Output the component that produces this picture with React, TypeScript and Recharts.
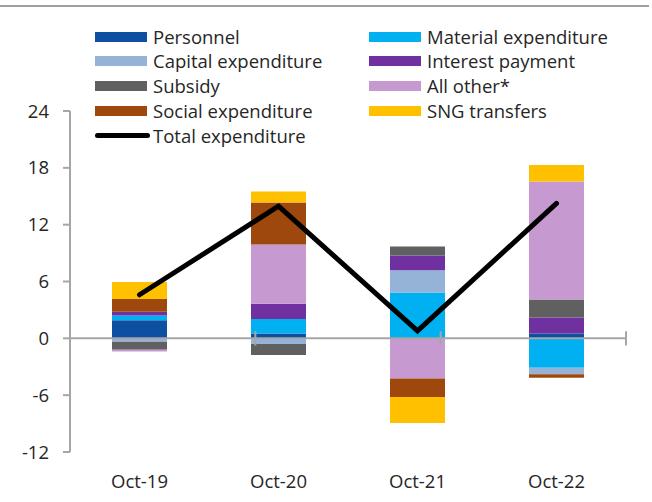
import React from 'react';
import { ComposedChart, Bar, Line, XAxis, YAxis, ReferenceLine } from 'recharts';

const categories = ['Oct-19', 'Oct-20', 'Oct-21', 'Oct-22'];
const personnel = [1.9, 0.5, 0, 0.5];
const material = [0.5, 1.55, 4.85, -3.1];
const capital = [-0.35, -0.6, 2.35, -0.7];
const interest = [0.4, 1.6, 1.55, 1.7];
const subsidy = [-0.85, -1.15, 0.95, 1.9];
const allOther = [-0.2, 6.25, -4.25, 12.45];
const social = [1.35, 4.45, -1.95, -0.35];
const sng = [1.8, 1.15, -2.75, 1.75];
const total = [4.6, 13.95, 0.8, 14.25];
const yTicks = [-12, -6, 0, 6, 12, 18, 24];
const boundaries = [1, 2, 3, 4];

const series = [
  { key: 'personnel', name: 'Personnel', color: '#0D4FA1', values: personnel },
  { key: 'material', name: 'Material expenditure', color: '#00B0F0', values: material },
  { key: 'capital', name: 'Capital expenditure', color: '#95B3D7', values: capital },
  { key: 'interest', name: 'Interest payment', color: '#7030A0', values: interest },
  { key: 'subsidy', name: 'Subsidy', color: '#606060', values: subsidy },
  { key: 'allOther', name: 'All other*', color: '#C69AD1', values: allOther },
  { key: 'social', name: 'Social expenditure', color: '#9E480E', values: social },
  { key: 'sng', name: 'SNG transfers', color: '#FFC000', values: sng },
];

const data = categories.map((c, i) => {
  const row: Record<string, any> = { cat: c, total: total[i] };
  series.forEach((s) => { row[s.key] = s.values[i]; });
  return row;
});

const FONT = '"Open Sans", sans-serif';
const FS = 18.5;
const AXIS = '#A6A6A6';
const TEXT = '#262626';

function LegendBox() {
  const items = [...series.map((s) => ({ name: s.name, color: s.color, line: false })), { name: 'Total expenditure', color: '#000', line: true }];
  return (
    <div style={{ position: 'absolute', left: 0, top: 0, width: 652, height: 150, fontFamily: FONT, fontSize: FS, color: TEXT }}>
      {items.map((it, i) => {
        const col = i % 2;
        const row = Math.floor(i / 2);
        const left = col === 0 ? 95 : 369;
        const top = 36.5 + row * 24.8;
        return (
          <div key={it.name} style={{ position: 'absolute', left, top: top - 12, height: 24, display: 'flex', alignItems: 'center', whiteSpace: 'nowrap' }}>
            {it.line ? (
              <div style={{ width: 55, height: 5, background: '#000', borderRadius: 3, marginRight: 3 }} />
            ) : (
              <div style={{ width: 52, height: 10, background: it.color, marginRight: 6 }} />
            )}
            <span style={{ lineHeight: '24px' }}>{it.name}</span>
          </div>
        );
      })}
    </div>
  );
}

export default function App() {
  return (
    <div style={{ position: 'absolute', left: 0, top: 0, width: 652, height: 502, background: '#fff', fontFamily: FONT }}>
      <div style={{ position: 'absolute', left: 0, top: 5, width: 649, height: 2, background: '#A0A0A0' }} />
      <ComposedChart
        width={652}
        height={502}
        data={data}
        stackOffset="sign"
        margin={{ top: 111, right: 26, bottom: 20, left: 8 }}
      >
        <XAxis
          dataKey="cat"
          axisLine={false}
          tickLine={false}
          tickMargin={17}
          tick={{ fontSize: FS, fill: TEXT, fontFamily: FONT }}
          height={30}
          interval={0}
        />
        <XAxis xAxisId="n" type="number" domain={[0, 4]} hide />
        <YAxis
          domain={[-12, 24]}
          ticks={yTicks}
          interval={0}
          width={62}
          axisLine={{ stroke: AXIS, strokeWidth: 2 }}
          tickLine={{ stroke: AXIS, strokeWidth: 2 }}
          tickSize={7}
          tickMargin={14}
          tick={{ fontSize: FS, fill: TEXT, fontFamily: FONT }}
        />
        {series.map((s) => (
          <Bar key={s.key} dataKey={s.key} name={s.name} stackId="a" fill={s.color} barSize={55} isAnimationActive={false} />
        ))}
        <ReferenceLine y={0} stroke={AXIS} strokeWidth={2} />
        {boundaries.map((b) => (
          <ReferenceLine
            key={b}
            xAxisId="n"
            segment={[{ x: b, y: -0.75 }, { x: b, y: 0.75 }]}
            stroke={AXIS}
            strokeWidth={2}
          />
        ))}
        <Line dataKey="total" name="Total expenditure" stroke="#000" strokeWidth={5} dot={false} isAnimationActive={false} strokeLinecap="round" strokeLinejoin="miter" />
      </ComposedChart>
      <LegendBox />
    </div>
  );
}
